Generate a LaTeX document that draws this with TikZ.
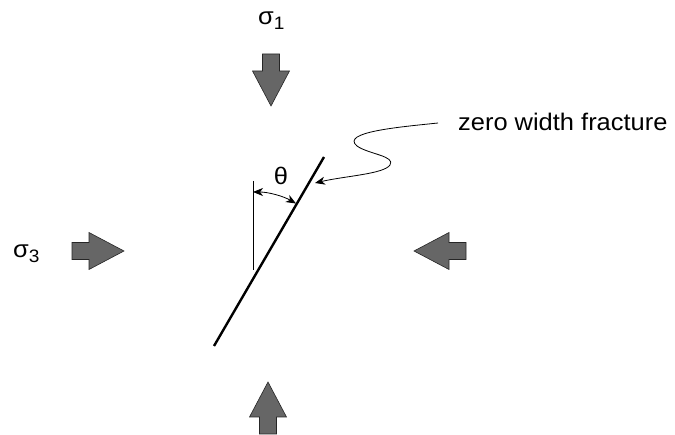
\documentclass[tikz,border=0pt]{standalone}
\usepackage{fontspec}
\setmainfont{Liberation Sans}[FakeStretch=1.06]
\usetikzlibrary{arrows.meta}
\tikzset{
  blockarrow/.pic={
    \fill[black!60,draw=black!85,line width=0.6pt]
      (0,0) -- (-18.5,-35) -- (-8.5,-35) -- (-8.5,-52) -- (8.5,-52) -- (8.5,-35) -- (18.5,-35) -- cycle;
  },
  lbl/.style={inner sep=0pt, font=\fontsize{24}{28}\selectfont},
  fracline/.style={line width=2.4pt},
  thinline/.style={line width=0.8pt},
  tip/.style={-{Stealth[length=10pt,width=8pt,inset=3pt]}},
}
\begin{document}
\begin{tikzpicture}[x=1pt,y=-1pt]
\useasboundingbox (0,0) rectangle (675,435);
% block arrows
\pic at (271,106) {blockarrow};
\pic[rotate=180] at (268,382) {blockarrow};
\pic[rotate=90] at (124,251) {blockarrow};
\pic[rotate=-90] at (414,251) {blockarrow};
% labels
\node[lbl,anchor=base west] (s1) at (258,25) {σ\raisebox{-5pt}{\fontsize{18}{20}\selectfont 1}};
\node[lbl,anchor=base west] (s3) at (13,258) {σ\raisebox{-5pt}{\fontsize{18}{20}\selectfont 3}};
% fracture
\coordinate (ftop) at (324,157);
\coordinate (fbot) at (214,346);
\draw[fracline] (fbot) -- (ftop);
\coordinate (vtop) at (253,181);
\coordinate (vbot) at (253,270);
\draw[thinline] (vtop) -- (vbot);
% theta arc
\coordinate (ac) at (253,278);
\draw[thinline,{Stealth[length=10pt,width=8pt,inset=3pt]}-{Stealth[length=10pt,width=8pt,inset=3pt]}]
  ([shift={(90:86pt)}]ac) arc[start angle=90,end angle=60,radius=86pt];
\node[lbl] (th) at (281,176) {θ};
% label and leader
\node[lbl,anchor=base west] (txt) at (458,131) {zero width fracture};
\coordinate (ls) at (438,123);
\coordinate (le) at (315,183);
\draw[thinline,tip] (ls) .. controls (400,127) and (340,132) .. (357,146)
  .. controls (368,154) and (396,156) .. (390,165)
  .. controls (384,174) and (345,176) .. (le);
\end{tikzpicture}
\end{document}
